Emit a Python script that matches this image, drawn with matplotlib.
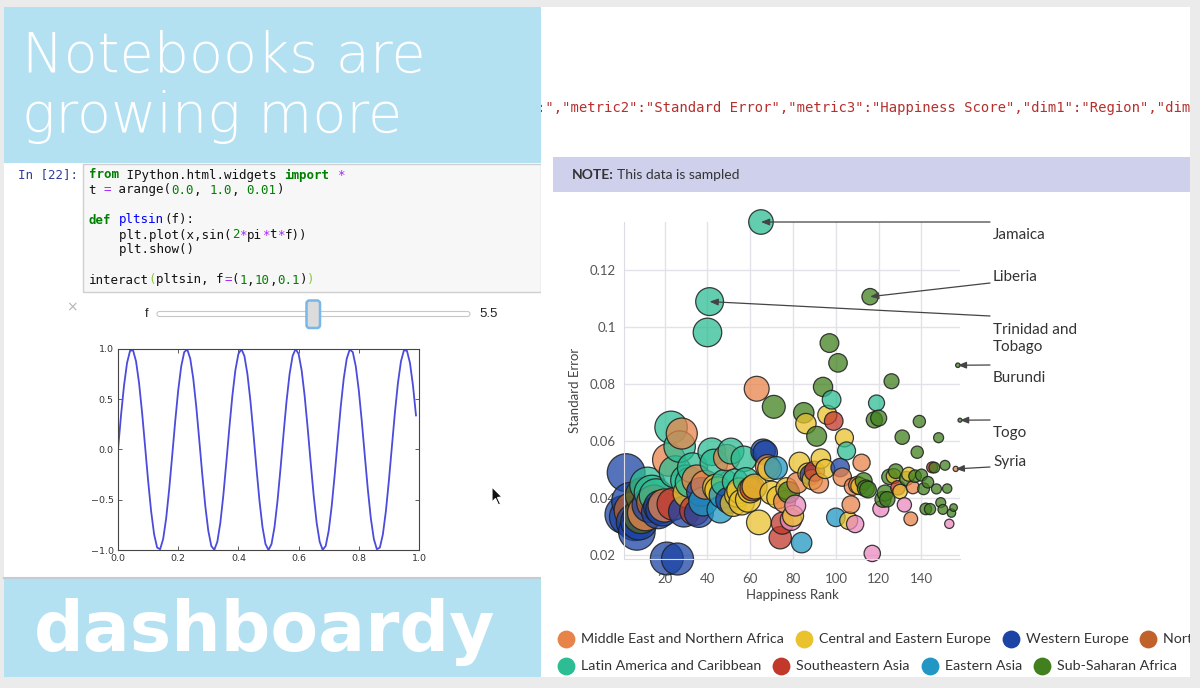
import numpy as np
import matplotlib
matplotlib.use("Agg")
import matplotlib.pyplot as plt
from matplotlib import font_manager
from matplotlib.patches import Rectangle, FancyBboxPatch, Polygon
from matplotlib.colors import to_rgba

W, H = 1200, 688

# ---------------- data: 2015 happiness report (bubble chart) ----------------
countries = [
    "Switzerland", "Iceland", "Denmark", "Norway", "Canada", "Finland", "Netherlands", "Sweden",
    "New Zealand", "Australia", "Israel", "Costa Rica", "Austria", "Mexico", "United States", "Brazil",
    "Luxembourg", "Ireland", "Belgium", "United Arab Emirates", "United Kingdom", "Oman", "Venezuela",
    "Singapore", "Panama", "Germany", "Chile", "Qatar", "France", "Argentina", "Czech Republic",
    "Uruguay", "Colombia", "Thailand", "Saudi Arabia", "Spain", "Malta", "Taiwan", "Kuwait", "Suriname",
    "Trinidad and Tobago", "El Salvador", "Guatemala", "Uzbekistan", "Slovakia", "Japan", "South Korea",
    "Ecuador", "Bahrain", "Italy", "Bolivia", "Moldova", "Paraguay", "Kazakhstan", "Slovenia",
    "Lithuania", "Nicaragua", "Peru", "Belarus", "Poland", "Malaysia", "Croatia", "Libya", "Russia",
    "Jamaica", "North Cyprus", "Cyprus", "Algeria", "Kosovo", "Turkmenistan", "Mauritius", "Hong Kong",
    "Estonia", "Indonesia", "Vietnam", "Turkey", "Kyrgyzstan", "Nigeria", "Bhutan", "Azerbaijan",
    "Pakistan", "Jordan", "Montenegro", "China", "Zambia", "Romania", "Serbia", "Portugal", "Latvia",
    "Philippines", "Somaliland", "Morocco", "Macedonia", "Mozambique", "Albania", "Bosnia",
    "Lesotho", "Dominican Republic", "Laos", "Mongolia", "Swaziland", "Greece", "Lebanon", "Hungary",
    "Honduras", "Tajikistan", "Tunisia", "Palestine", "Bangladesh", "Iran", "Ukraine", "Iraq",
    "South Africa", "Ghana", "Zimbabwe", "Liberia", "India", "Sudan", "Haiti", "Congo (Kinshasa)",
    "Nepal", "Ethiopia", "Sierra Leone", "Mauritania", "Kenya", "Djibouti", "Armenia", "Botswana",
    "Myanmar", "Georgia", "Malawi", "Sri Lanka", "Cameroon", "Bulgaria", "Egypt", "Yemen", "Angola",
    "Mali", "Congo (Brazzaville)", "Comoros", "Uganda", "Senegal", "Gabon", "Niger", "Cambodia",
    "Tanzania", "Madagascar", "Central African Republic", "Chad", "Guinea", "Ivory Coast",
    "Burkina Faso", "Afghanistan", "Rwanda", "Benin", "Syria", "Burundi", "Togo",
]
regions = [
    "WE", "WE", "WE", "WE", "NA", "WE", "WE", "WE", "ANZ", "ANZ", "MENA", "LAC", "WE", "LAC", "NA", "LAC",
    "WE", "WE", "WE", "MENA", "WE", "MENA", "LAC", "SEA", "LAC", "WE", "LAC", "MENA", "WE", "LAC", "CEE",
    "LAC", "LAC", "SEA", "MENA", "WE", "WE", "EA", "MENA", "LAC", "LAC", "LAC", "LAC", "CEE", "CEE", "EA", "EA",
    "LAC", "MENA", "WE", "LAC", "CEE", "LAC", "CEE", "CEE", "CEE", "LAC", "LAC", "CEE", "CEE", "SEA", "CEE", "MENA", "CEE",
    "LAC", "WE", "WE", "MENA", "CEE", "CEE", "SSA", "EA", "CEE", "SEA", "SEA", "MENA", "CEE", "SSA", "SA", "CEE",
    "SA", "MENA", "CEE", "EA", "SSA", "CEE", "CEE", "WE", "CEE", "SEA", "SSA", "MENA", "CEE", "SSA", "CEE", "CEE",
    "SSA", "LAC", "SEA", "EA", "SSA", "WE", "MENA", "CEE", "LAC", "CEE", "MENA", "MENA", "SA", "MENA", "CEE", "MENA",
    "SSA", "SSA", "SSA", "SSA", "SA", "SSA", "LAC", "SSA", "SA", "SSA", "SSA", "SSA", "SSA", "SSA", "CEE", "SSA",
    "SEA", "CEE", "SSA", "SA", "SSA", "CEE", "MENA", "MENA", "SSA", "SSA", "SSA", "SSA", "SSA", "SSA", "SSA", "SSA", "SEA",
    "SSA", "SSA", "SSA", "SSA", "SSA", "SSA", "SSA", "SA", "SSA", "SSA", "MENA", "SSA", "SSA",
]
happiness_rank = [
    1, 2, 3, 4, 5, 6, 7, 8, 9, 10, 11, 12, 13, 14, 15, 16, 17, 18, 19, 20,
    21, 22, 23, 24, 25, 26, 27, 28, 29, 30, 31, 32, 33, 34, 35, 36, 37, 38, 39, 40,
    41, 42, 43, 44, 45, 46, 47, 48, 49, 50, 51, 52, 53, 54, 55, 56, 57, 58, 59, 60,
    61, 62, 63, 64, 65, 66, 67, 68, 69, 70, 71, 72, 73, 74, 75, 76, 77, 78, 79, 80,
    81, 82, 83, 84, 85, 86, 87, 88, 89, 90, 91, 92, 93, 94, 95, 96, 97, 98, 99, 100,
    101, 102, 103, 104, 105, 106, 107, 108, 109, 110, 111, 112, 113, 114, 115, 116, 117, 118, 119, 120,
    121, 122, 123, 124, 125, 126, 127, 128, 129, 130, 131, 132, 133, 134, 135, 136, 137, 138, 139, 140,
    141, 142, 143, 144, 145, 146, 147, 148, 149, 150, 151, 152, 153, 154, 155, 156, 157, 158,
]
happiness_score = [
    7.587, 7.561, 7.527, 7.522, 7.427, 7.406, 7.378, 7.364, 7.286, 7.284, 7.278, 7.226, 7.200, 7.187, 7.119, 6.983,
    6.946, 6.940, 6.937, 6.901, 6.867, 6.853, 6.810, 6.798, 6.786, 6.750, 6.670, 6.611, 6.575, 6.574, 6.505,
    6.485, 6.477, 6.455, 6.411, 6.329, 6.302, 6.298, 6.295, 6.269, 6.168, 6.130, 6.123, 6.003, 5.995, 5.987, 5.984,
    5.975, 5.960, 5.948, 5.890, 5.889, 5.878, 5.855, 5.848, 5.833, 5.828, 5.824, 5.813, 5.791, 5.770, 5.759, 5.754, 5.716,
    5.709, 5.695, 5.689, 5.605, 5.589, 5.548, 5.477, 5.474, 5.429, 5.399, 5.360, 5.332, 5.286, 5.268, 5.253, 5.212,
    5.194, 5.192, 5.192, 5.140, 5.129, 5.124, 5.123, 5.102, 5.098, 5.073, 5.057, 5.013, 5.007, 4.971, 4.959, 4.949,
    4.898, 4.885, 4.876, 4.874, 4.867, 4.857, 4.839, 4.800, 4.788, 4.786, 4.739, 4.715, 4.694, 4.686, 4.681, 4.677,
    4.642, 4.633, 4.610, 4.571, 4.565, 4.550, 4.518, 4.517, 4.514, 4.512, 4.507, 4.436, 4.419, 4.369, 4.350, 4.332,
    4.307, 4.297, 4.292, 4.271, 4.252, 4.218, 4.194, 4.077, 4.033, 3.995, 3.989, 3.956, 3.931, 3.904, 3.896, 3.845, 3.819,
    3.781, 3.681, 3.678, 3.667, 3.656, 3.655, 3.587, 3.575, 3.465, 3.340, 3.006, 2.905, 2.839,
]
standard_error = [
    0.03411, 0.04884, 0.03328, 0.03880, 0.03553, 0.03140, 0.02799, 0.03157, 0.03371, 0.04083, 0.03470, 0.04454,
    0.03751, 0.04176, 0.03839, 0.04076, 0.03499, 0.03676, 0.03595, 0.03729, 0.01866, 0.05335, 0.06476, 0.03780,
    0.04910, 0.01848, 0.05800, 0.06257, 0.03512, 0.04612, 0.04168, 0.04539, 0.05051, 0.03557, 0.04633, 0.03468,
    0.04206, 0.03868, 0.04456, 0.09811, 0.10895, 0.05618, 0.05224, 0.04361, 0.04267, 0.03581, 0.04098, 0.04528,
    0.05412, 0.03914, 0.05642, 0.03799, 0.04563, 0.04114, 0.04251, 0.03843, 0.05371, 0.04615, 0.03938, 0.04263,
    0.04330, 0.04394, 0.07832, 0.03135, 0.13693, 0.05635, 0.05580, 0.05099, 0.05018, 0.04175, 0.07197, 0.05051,
    0.04013, 0.02596, 0.03107, 0.03864, 0.04327, 0.04192, 0.03225, 0.03363, 0.03726, 0.04524, 0.05235, 0.02424,
    0.06988, 0.06607, 0.04864, 0.04802, 0.04640, 0.04934, 0.06161, 0.04509, 0.05376, 0.07896, 0.05013, 0.06913,
    0.09438, 0.07446, 0.06698, 0.03313, 0.08742, 0.05062, 0.04726, 0.06107, 0.05648, 0.03198, 0.03760, 0.04394,
    0.03077, 0.04449, 0.04412, 0.05232, 0.04585, 0.04330, 0.04290, 0.11068, 0.02043, 0.06740, 0.07331, 0.06800,
    0.03607, 0.03945, 0.04170, 0.03947, 0.04734, 0.08096, 0.04763, 0.04934, 0.04351, 0.04221, 0.06130, 0.03751,
    0.04678, 0.04828, 0.03260, 0.04367, 0.04758, 0.05602, 0.06682, 0.04797, 0.04317, 0.03608, 0.04547, 0.03602,
    0.05069, 0.05061, 0.04312, 0.06112, 0.03830, 0.03590, 0.05141, 0.04324, 0.03084, 0.03464, 0.03656, 0.05015,
    0.08658, 0.06727,
]

region_labels = {
    "MENA": "Middle East and Northern Africa", "CEE": "Central and Eastern Europe", "WE": "Western Europe",
    "NA": "North America", "LAC": "Latin America and Caribbean",
    "SEA": "Southeastern Asia", "EA": "Eastern Asia", "SSA": "Sub-Saharan Africa",
}
legend_rows = [["MENA", "CEE", "WE", "NA"], ["LAC", "SEA", "EA", "SSA"]]
region_colors = {
    "MENA": "#e8844a", "CEE": "#e9c22e", "WE": "#1c44a4", "NA": "#c1622b", "ANZ": "#52672c",
    "LAC": "#2dbd94", "SEA": "#c2392c", "EA": "#2297c3", "SSA": "#42801f", "SA": "#ea88bf",
}
annotated = ["Jamaica", "Liberia", "Trinidad and Tobago", "Burundi", "Togo", "Syria"]

# interact() output: sin(2*pi*t*f) with f = 5.5, sampled every 0.01
slider_value = 5.5
sine_values = [
    0.000, 0.339, 0.637, 0.861, 0.982, 0.988, 0.876, 0.661, 0.368, 0.031,
    -0.309, -0.613, -0.844, -0.976, -0.992, -0.891, -0.685, -0.397, -0.063, 0.279,
    0.588, 0.827, 0.969, 0.996, 0.905, 0.707, 0.426, 0.094, -0.249, -0.562,
    -0.809, -0.960, -0.998, -0.918, -0.729, -0.454, -0.125, 0.218, 0.536, 0.790,
    0.951, 1.000, 0.930, 0.750, 0.482, 0.156, -0.187, -0.509, -0.771, -0.941,
    -1.000, -0.941, -0.771, -0.509, -0.187, 0.156, 0.482, 0.750, 0.930, 1.000,
    0.951, 0.790, 0.536, 0.218, -0.125, -0.454, -0.729, -0.918, -0.998, -0.960,
    -0.809, -0.562, -0.249, 0.094, 0.426, 0.707, 0.905, 0.996, 0.969, 0.827,
    0.588, 0.279, -0.063, -0.397, -0.685, -0.891, -0.992, -0.976, -0.844, -0.613,
    -0.309, 0.031, 0.368, 0.661, 0.876, 0.988, 0.982, 0.861, 0.637, 0.339,
]
sine_xticks = [0.0, 0.2, 0.4, 0.6, 0.8, 1.0]
sine_yticks = [-1.0, -0.5, 0.0, 0.5, 1.0]

code_lines = [
    (0, [("from", "kw"), (" IPython.html.widgets ", "txt"), ("import", "kw"), (" ", "txt"), ("*", "op")]),
    (1, [("t ", "txt"), ("=", "op"), (" arange(", "txt"), ("0.0", "num"), (", ", "txt"), ("1.0", "num"),
         (", ", "txt"), ("0.01", "num"), (")", "txt")]),
    (3, [("def", "kw"), (" ", "txt"), ("pltsin", "fn"), ("(f):", "txt")]),
    (4, [("    plt.plot(x,sin(", "txt"), ("2", "num"), ("*", "op"), ("pi", "txt"), ("*", "op"), ("t", "txt"),
         ("*", "op"), ("f))", "txt")]),
    (5, [("    plt.show()", "txt")]),
    (7, [("interact", "txt"), ("(", "br"), ("pltsin, f", "txt"), ("=", "op"), ("(", "txt"), ("1", "num"),
         (",", "txt"), ("10", "num"), (",", "txt"), ("0.1", "num"), (")", "txt"), (")", "br")]),
]
token_style = {
    "kw": ("#008000", "bold"), "op": ("#aa22ff", "normal"), "num": ("#008000", "normal"),
    "fn": ("#0000ff", "normal"), "txt": ("#111111", "normal"), "br": ("#8cc63f", "normal"),
}
json_text = ':","metric2":"Standard Error","metric3":"Happiness Score","dim1":"Region","dim2'


def px(x0, y0, x1, y1):
    # pixel box (top-left origin) -> figure fraction
    return [x0 / W, 1 - y1 / H, (x1 - x0) / W, (y1 - y0) / H]


def find_light_font(names):
    # first installed family that has a light cut
    for name in names:
        for f in font_manager.fontManager.ttflist:
            wt = f.weight if isinstance(f.weight, int) else font_manager.weight_dict.get(f.weight, 400)
            if f.name == name and wt <= 300:
                return name, wt
    return "DejaVu Sans", 400


def clip_to(artist, ax):
    artist.set_clip_box(ax.bbox)
    artist.set_clip_on(True)
    return artist


fig = plt.figure(figsize=(W / 100, H / 100), dpi=100, facecolor="#ebebeb")
renderer = fig.canvas.get_renderer()

# ---------------- left slide panel ----------------
bg = fig.add_axes([0, 0, 1, 1])
bg.set_xlim(0, W)
bg.set_ylim(H, 0)
bg.axis("off")

bg.add_patch(Rectangle((4, 7), 537, 670, fc="white", ec="none"))
bg.add_patch(Rectangle((4, 7), 537, 156, fc="#b3e1f2", ec="none"))
bg.add_patch(Rectangle((4, 579), 537, 98, fc="#b3e1f2", ec="none"))
bg.plot([4, 541], [578, 578], color="#c3ccd4", lw=1.5)

title_family, title_weight = find_light_font(["DejaVu Sans", "Lato", "Open Sans", "Roboto", "Inter", "Noto Sans"])
probe = bg.text(0, 0, "Notebooks are", family=title_family, fontweight=title_weight, fontsize=40)
title_size = 40 * 404 / probe.get_window_extent(renderer).width
probe.remove()
for line_text, base_y in [("Notebooks are", 72), ("growing more", 132)]:
    bg.text(22, base_y, line_text, color="white", fontsize=title_size, family=title_family,
            fontweight=title_weight, va="baseline")
bg.text(34, 651, "dashboardy", color="white", fontsize=50, family="DejaVu Sans",
        fontweight="bold", va="baseline")

# code cell
bg.add_patch(Rectangle((83, 164), 458, 128, fc="#f7f7f7", ec="#cfcfcf", lw=1))
bg.text(17.5, 175, "In [22]:", family="DejaVu Sans Mono", fontsize=9, color="#303f9f", va="center")
char_w = 7.53
for row, tokens in code_lines:
    col = 0
    for piece, kind in tokens:
        color, weight = token_style[kind]
        bg.text(88.6 + col * char_w, 175 + row * 15, piece, family="DejaVu Sans Mono", fontsize=9,
                color=color, fontweight=weight, va="center")
        col += len(piece)

# slider widget
bg.text(71.5, 307, "\u00d7", fontsize=10, color="#b5b5b5", ha="center", va="center")
bg.text(147, 314, "f", fontsize=9, family="Liberation Sans", color="#222", ha="center", va="center")
bg.add_patch(FancyBboxPatch((157, 311.5), 313, 5, boxstyle="round,pad=0,rounding_size=2.5",
                            fc="white", ec="#c8c8c8", lw=0.8))
bg.add_patch(FancyBboxPatch((306.5, 300.5), 13.5, 27.5, boxstyle="round,pad=0,rounding_size=3",
                            fc="#dcdcdc", ec="#79b6ea", lw=1.8))
bg.text(479, 314, f"{slider_value}", fontsize=9.5, family="Liberation Sans", color="#222", va="center")

# mouse pointer left in the screenshot
bg.add_patch(Polygon([(492, 487), (492, 502), (495.5, 498.5), (498.5, 505), (500.5, 504),
                      (497.5, 497.5), (502, 497)], closed=True, fc="#111", ec="white", lw=0.8))

# the interact() plot
ax_sin = fig.add_axes(px(118, 349, 419, 550))
sine_t = np.arange(len(sine_values)) * 0.01
ax_sin.plot(sine_t, sine_values, color="#4b4bdc", lw=1.3)
ax_sin.set_xlim(0, 1)
ax_sin.set_ylim(-1, 1)
ax_sin.set_xticks(sine_xticks)
ax_sin.set_yticks(sine_yticks)
ax_sin.tick_params(direction="in", top=True, right=True, length=3, width=0.6, labelsize=6.8,
                   labelcolor="#333", color="#444", pad=3)
for sp in ax_sin.spines.values():
    sp.set_color("#444")
    sp.set_linewidth(0.8)

# ---------------- right panel (dashboard) ----------------
rp = fig.add_axes(px(541, 7, 1190, 677))
rp.set_xlim(541, 1190)
rp.set_ylim(677, 7)
rp.set_facecolor("white")
for sp in rp.spines.values():
    sp.set_visible(False)
rp.set_xticks([])
rp.set_yticks([])

clip_to(rp.text(537, 108, json_text, family="DejaVu Sans Mono", fontsize=10, color="#b5302d",
                va="center"), rp)
rp.add_patch(Rectangle((553, 157), 640, 35, fc="#cfd1ec", ec="none"))
note = rp.text(572, 175, "NOTE:", family="Lato", fontsize=10, fontweight="bold", color="#333", va="center")
nb = note.get_window_extent(renderer)
rp.text(nb.x1 + 3, 175, "This data is sampled", family="Lato", fontsize=10, color="#333", va="center")

# legend rows, cut at the panel edge like the screenshot
for legend_y, codes in zip([639, 666], legend_rows):
    x = 566
    for code in codes:
        rp.scatter([x], [legend_y], s=165, color=region_colors[code], lw=0, zorder=3)
        t = clip_to(rp.text(x + 15, legend_y, region_labels[code], family="Lato", fontsize=10.3,
                            color="#333", va="center"), rp)
        x = t.get_window_extent(renderer).x1 + 20

# bubble chart
ax = fig.add_axes(px(624, 222, 960, 559))
ax.set_facecolor("none")
sc_min, sc_max = min(happiness_score), max(happiness_score)
radius = [2 + 17 * (s - sc_min) / (sc_max - sc_min) for s in happiness_score]
sizes = [(2 * r * 0.72) ** 2 for r in radius]
faces = [to_rgba(region_colors[r], 0.75) for r in regions]
ax.scatter(happiness_rank, standard_error, s=sizes, c=faces, edgecolors=to_rgba("#1e1e1e", 0.85),
           linewidths=0.9, clip_on=False, zorder=2)
ax.set_xlim(min(happiness_rank), max(happiness_rank))
ax.set_ylim(min(standard_error), max(standard_error))
ax.set_xticks([20, 40, 60, 80, 100, 120, 140])
ax.set_yticks([0.02, 0.04, 0.06, 0.08, 0.1, 0.12])
ax.set_yticklabels(["0.02", "0.04", "0.06", "0.08", "0.1", "0.12"])
ax.grid(True, color="#e2e2e8", lw=1)
ax.set_axisbelow(True)
for side in ["top", "right"]:
    ax.spines[side].set_visible(False)
for side in ["left", "bottom"]:
    ax.spines[side].set_color("#dcdce2")
ax.tick_params(axis="x", length=0, labelsize=9.5, labelcolor="#555", pad=10)
ax.tick_params(axis="y", length=0, labelsize=9.5, labelcolor="#555", pad=6)
for lab in ax.get_xticklabels() + ax.get_yticklabels():
    lab.set_family("Lato")
ax.set_xlabel("Happiness Rank", family="Lato", fontsize=9.5, color="#444", labelpad=3)
ax.set_ylabel("Standard Error", family="Lato", fontsize=9.5, color="#444", labelpad=6)

# callouts: (line start y, label y) in panel pixels
callout_pos = {
    "Jamaica": (222, 235), "Liberia": (283, 277), "Trinidad and Tobago": (316, 338.5),
    "Burundi": (365, 378), "Togo": (420, 433), "Syria": (467, 462),
}
for name in annotated:
    i = countries.index(name)
    line_y, label_y = callout_pos[name]
    ax.annotate("", xy=(happiness_rank[i], standard_error[i]), xycoords="data",
                xytext=(990, line_y), textcoords=rp.transData, annotation_clip=False,
                arrowprops=dict(arrowstyle="-|>,head_length=0.5,head_width=0.2", color="#444",
                                lw=0.9, shrinkA=0, shrinkB=0))
    label = "Trinidad and\nTobago" if name == "Trinidad and Tobago" else name
    rp.text(993, label_y, label, family="Lato", fontsize=11, color="#333", va="center",
            linespacing=1.25)

fig.savefig("out.png", dpi=100, facecolor=fig.get_facecolor())
